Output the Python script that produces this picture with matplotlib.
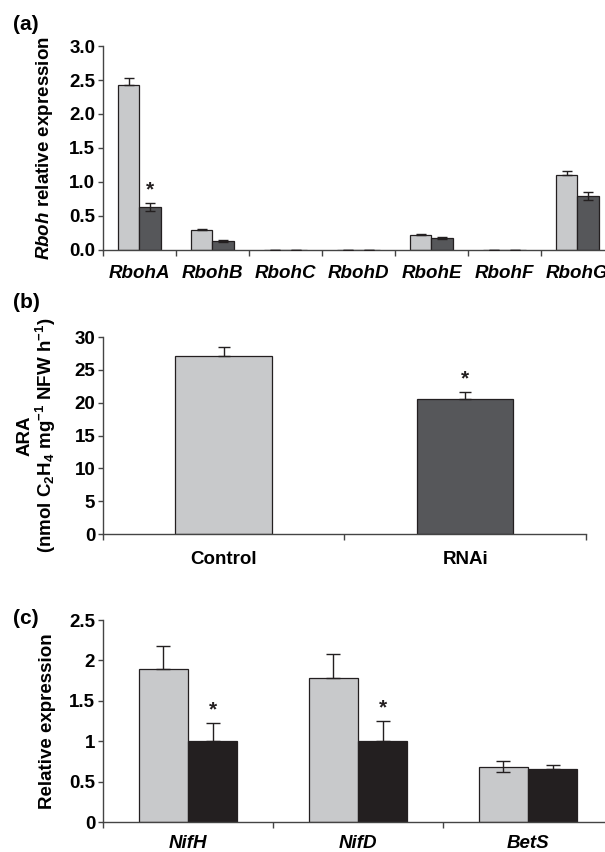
import numpy as np
import matplotlib
matplotlib.use("Agg")
import matplotlib.pyplot as plt

plt.rcParams['font.family'] = ['Liberation Sans', 'DejaVu Sans']
plt.rcParams['font.weight'] = 'bold'
plt.rcParams['font.size'] = 13.5
plt.rcParams['mathtext.fontset'] = 'custom'
plt.rcParams['mathtext.rm'] = 'Liberation Sans:bold'
plt.rcParams['mathtext.bf'] = 'Liberation Sans:bold'
plt.rcParams['mathtext.it'] = 'Liberation Sans:bold:italic'
plt.rcParams['mathtext.default'] = 'bf'

# (a) Rboh genes, control vs RNAi
rboh_genes = ["RbohA", "RbohB", "RbohC", "RbohD", "RbohE", "RbohF", "RbohG"]
rboh_control = [2.42, 0.29, 0.004, 0.004, 0.22, 0.004, 1.10]
rboh_control_err = [0.11, 0.015, 0.002, 0.002, 0.02, 0.002, 0.06]
rboh_rnai = [0.63, 0.13, 0.004, 0.004, 0.17, 0.004, 0.80]
rboh_rnai_err = [0.06, 0.01, 0.002, 0.002, 0.015, 0.002, 0.06]
rboh_star = [True, False, False, False, False, False, False]

# (b) acetylene reduction activity
ara_groups = ["Control", "RNAi"]
ara_values = [27.1, 20.6]
ara_err = [1.4, 1.0]
ara_star = [False, True]

# (c) nif genes
nif_genes = ["NifH", "NifD", "BetS"]
nif_control = [1.89, 1.78, 0.68]
nif_control_err_up = [0.29, 0.30, 0.075]
nif_control_err_low = [0.0, 0.0, 0.06]
nif_rnai = [1.0, 1.0, 0.655]
nif_rnai_err = [0.23, 0.25, 0.045]
nif_star = [True, True, False]

light = "#c8c9cb"
dark = "#56575a"
black = "#231f20"
edge = "#231f20"
spine = "#444444"


def style_axis(ax, n, ymax, yticks, yfmt, ticklen_x=6):
    for s in ["top", "right"]:
        ax.spines[s].set_visible(False)
    for s in ["left", "bottom"]:
        ax.spines[s].set_color(spine)
        ax.spines[s].set_linewidth(1.0)
    ax.set_xlim(-0.5, n - 0.5)
    ax.set_ylim(0, ymax)
    ax.set_yticks(yticks)
    ax.set_yticklabels([yfmt(v) for v in yticks])
    ax.tick_params(axis='y', direction='out', length=3.6, width=1.0, color=spine, pad=2)
    # boundaries get tick marks, centres get the labels
    ax.set_xticks(np.arange(n + 1) - 0.5)
    ax.set_xticklabels([])
    ax.tick_params(axis='x', which='major', direction='out', length=ticklen_x * 0.72, width=1.0, color=spine)
    ax.set_xticks(np.arange(n), minor=True)
    ax.tick_params(axis='x', which='minor', length=0)


def add_stars(ax, xs, tops, flags, offset):
    for x, t, f in zip(xs, tops, flags):
        if f:
            ax.text(x, t + offset, "*", ha='center', va='center', fontsize=15, fontweight='bold', color=black)


fig = plt.figure(figsize=(6.05, 8.52), dpi=100)

# ---- panel (a)
ax = fig.add_axes([0.1702, 0.7066, 0.8446, 0.2394])
x = np.arange(len(rboh_genes))
w = 0.29
ax.bar(x - w / 2, rboh_control, w, color=light, edgecolor=edge, linewidth=0.9, zorder=2)
ax.bar(x + w / 2, rboh_rnai, w, color=dark, edgecolor=edge, linewidth=0.9, zorder=2)
ax.errorbar(x - w / 2, rboh_control, yerr=[np.zeros(len(x)), rboh_control_err], fmt='none',
            ecolor=edge, elinewidth=1.0, capsize=3.3, capthick=1.0, zorder=3)
ax.errorbar(x + w / 2, rboh_rnai, yerr=rboh_rnai_err, fmt='none',
            ecolor=edge, elinewidth=1.0, capsize=3.3, capthick=1.0, zorder=3)
add_stars(ax, x + w / 2, np.array(rboh_rnai) + np.array(rboh_rnai_err), rboh_star, 0.19)
style_axis(ax, len(rboh_genes), 3.0, np.arange(0, 3.01, 0.5), lambda v: "%.1f" % v)
ax.set_xticklabels(rboh_genes, minor=True, fontstyle='italic', fontweight='bold')
ax.tick_params(axis='x', which='minor', pad=11)
ax.set_ylabel(r"$\mathit{Rboh}$ relative expression", fontweight='bold')
ax.yaxis.set_label_coords(-0.094, 0.5)

# ---- panel (b)
ax = fig.add_axes([0.1702, 0.3732, 0.7983, 0.2312])
x = np.arange(len(ara_groups))
ax.bar(x, ara_values, 0.4, color=[light, dark], edgecolor=edge, linewidth=0.9, zorder=2)
ax.errorbar(x, ara_values, yerr=[np.zeros(len(x)), ara_err], fmt='none',
            ecolor=edge, elinewidth=1.0, capsize=4, capthick=1.0, zorder=3)
add_stars(ax, x, np.array(ara_values) + np.array(ara_err), ara_star, 2.0)
style_axis(ax, len(ara_groups), 30, np.arange(0, 31, 5), lambda v: "%d" % v)
ax.set_xticklabels(ara_groups, minor=True, fontweight='bold')
ax.tick_params(axis='x', which='minor', pad=12)
ax.set_ylabel("ARA\n(nmol C$_2$H$_4$ mg$^{-1}$ NFW h$^{-1}$)", fontweight='bold', linespacing=1.05)
ax.yaxis.set_label_coords(-0.093, 0.5)

# ---- panel (c)
ax = fig.add_axes([0.1702, 0.0352, 0.843, 0.2371])
x = np.arange(len(nif_genes))
w = 0.29
ax.bar(x - w / 2, nif_control, w, color=light, edgecolor=edge, linewidth=0.9, zorder=2)
ax.bar(x + w / 2, nif_rnai, w, color=black, edgecolor=edge, linewidth=0.9, zorder=2)
ax.errorbar(x - w / 2, nif_control, yerr=[nif_control_err_low, nif_control_err_up], fmt='none',
            ecolor=edge, elinewidth=1.0, capsize=5, capthick=1.0, zorder=3)
ax.errorbar(x + w / 2, nif_rnai, yerr=[np.zeros(len(x)), nif_rnai_err], fmt='none',
            ecolor=edge, elinewidth=1.0, capsize=5, capthick=1.0, zorder=3)
add_stars(ax, x + w / 2, np.array(nif_rnai) + np.array(nif_rnai_err), nif_star, 0.16)
style_axis(ax, len(nif_genes), 2.5, np.arange(0, 2.51, 0.5), lambda v: "%g" % v)
ax.set_xticklabels(nif_genes, minor=True, fontstyle='italic', fontweight='bold')
ax.tick_params(axis='x', which='minor', pad=9)
ax.set_ylabel("Relative expression", fontweight='bold')
ax.yaxis.set_label_coords(-0.092, 0.5)

# panel letters
fig.text(0.0215, 1 - 25 / 852, "(a)", fontsize=15, fontweight='bold', va='center')
fig.text(0.0215, 1 - 302 / 852, "(b)", fontsize=15, fontweight='bold', va='center')
fig.text(0.0215, 1 - 618 / 852, "(c)", fontsize=15, fontweight='bold', va='center')

fig.savefig("out.png", dpi=100)
